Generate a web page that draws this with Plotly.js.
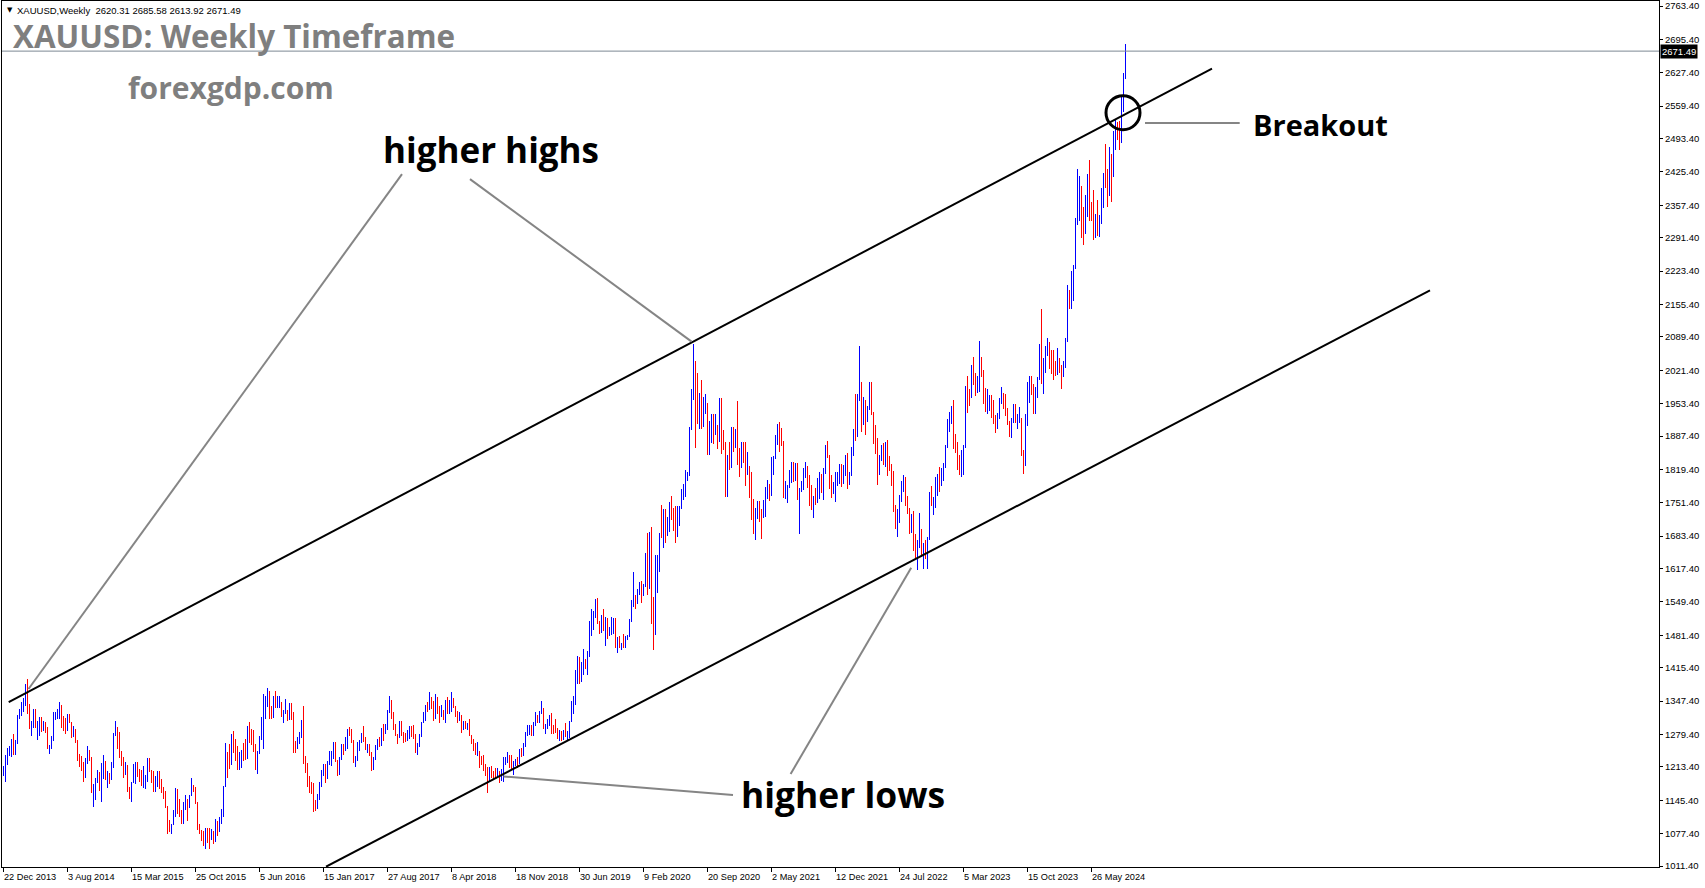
<!DOCTYPE html>
<html><head><meta charset="utf-8">
<script src="https://cdn.plot.ly/plotly-3.0.1.min.js"></script>
<style>
html,body{margin:0;padding:0;background:#fff;overflow:hidden}
#chart{width:1705px;height:888px}
.ohlclayer path,.trace.ohlc path,.ohlc path{shape-rendering:crispEdges !important}
</style>
</head><body><div id="chart"></div>
<script>
// ---- DATA (weekly XAUUSD bars starting week of 22 Dec 2013) ----
const firstWeek = '2013-12-22';

const open = [
1204,1213,1237,1247,1253,1264,1240,1262,1318,1323,1326,1339,1379,1335,1294,1303,1318,1294,1301,1302,1290,1293,1292,1252,1253,1274,1316,1317,1320,1338,1310,1304,1294,1310,1305,1280,1287,1268,1231,1216,1214,1192,1222,1238,1231,1171,1177,1187,1200,1175,1191,1222,1195,1196,
1186,1216,1277,1294,1283,1234,1228,1204,1213,1165,1152,1182,1199,1218,1207,1203,1178,1179,1189,1225,1205,1190,1169,1180,1200,1174,1168,1157,1132,1096,1094,1095,1113,1160,1134,1121,1104,1138,1146,1137,1156,1177,1163,1141,1088,1082,1076,1056,1085,1075,1066,1076,
1061,1098,1089,1097,1116,1173,1239,1229,1222,1270,1259,1255,1217,1221,1243,1234,1232,1290,1289,1273,1253,1213,1243,1275,1298,1323,1341,1366,1327,1322,1351,1335,1336,1341,1322,1327,1328,1310,1339,1316,1257,1251,1266,1276,1304,1224,1208,1183,1177,1160,1134,1133,
1151,1173,1196,1204,1190,1220,1234,1236,1257,1226,1202,1229,1249,1248,1254,1285,1284,1268,1228,1229,1254,1267,1280,1267,1254,1256,1242,1212,1228,1255,1269,1258,1289,1285,1292,1326,1346,1320,1297,1280,1275,1304,1280,1273,1268,1275,1294,1288,1279,1248,1256,1276,
1303,1320,1338,1332,1350,1333,1315,1347,1330,1322,1323,1313,1347,1323,1332,1345,1336,1323,1315,1319,1292,1302,1294,1298,1278,1269,1252,1241,1243,1231,1223,1214,1212,1184,1206,1199,1196,1194,1199,1196,1204,1221,1226,1234,1233,1208,1222,1223,1222,1248,1238,1257,1280,
1287,1291,1282,1298,1318,1314,1322,1329,1294,1298,1303,1313,1292,1291,1290,1275,1286,1281,1286,1277,1283,1305,1341,1342,1399,1409,1400,1415,1426,1419,1440,1497,1514,1527,1528,1507,1488,1516,1497,1505,1489,1490,1505,1514,1459,1468,1462,1464,1460,1476,1478,1511,
1552,1560,1557,1571,1589,1570,1584,1643,1585,1674,1529,1498,1617,1620,1683,1682,1727,1702,1703,1743,1735,1730,1685,1730,1743,1771,1775,1799,1810,1901,1975,2035,1944,1940,1964,1933,1940,1950,1861,1899,1930,1899,1902,1879,1951,1888,1872,1788,1839,1838,1881,1878,
1898,1849,1828,1856,1848,1814,1824,1784,1734,1700,1720,1745,1732,1729,1744,1777,1778,1768,1831,1843,1881,1903,1891,1877,1764,1781,1784,1808,1812,1802,1814,1763,1780,1781,1817,1827,1787,1754,1751,1761,1757,1767,1796,1783,1818,1865,1846,1792,1783,1784,1798,1809,
1829,1797,1817,1835,1791,1808,1859,1898,1889,1966,1988,1921,1958,1925,1946,1975,1932,1896,1883,1811,1846,1853,1850,1871,1840,1826,1811,1742,1708,1727,1766,1775,1802,1747,1737,1712,1716,1675,1644,1660,1695,1644,1657,1644,1681,1771,1751,1754,1797,1798,1793,1798,
1824,1865,1920,1926,1928,1865,1864,1842,1811,1856,1868,1989,1978,1969,2008,2004,1983,1990,2017,2011,1978,1946,1948,1961,1958,1921,1919,1925,1955,1962,1959,1942,1914,1889,1915,1940,1919,1924,1925,1849,1833,1932,1981,2006,1992,1940,1981,2002,2072,2004,2019,2053,
2062,2049,2048,2029,2018,2039,2024,2013,2035,2083,2179,2155,2165,2233,2329,2344,2392,2337,2301,2360,2415,2334,2327,2293,2333,2321,2326,2391,2411,2400,2386,2442,2431,2507,2512,2503,2497,2578,2620.31
];

const high = [
1215,1238,1251,1256,1270,1280,1268,1319,1332,1345,1354,1383,1392,1342,1306,1331,1331,1306,1315,1316,1306,1304,1294,1258,1277,1325,1325,1332,1345,1340,1318,1312,1322,1322,1305,1296,1290,1268,1240,1236,1223,1231,1255,1248,1234,1178,1191,1208,1203,1221,1238,1225,1204,1201,
1224,1282,1307,1294,1285,1245,1233,1224,1218,1172,1183,1219,1224,1224,1209,1208,1215,1196,1232,1232,1206,1205,1194,1205,1205,1189,1172,1164,1133,1105,1098,1126,1170,1169,1147,1125,1141,1157,1147,1157,1191,1177,1173,1141,1098,1085,1082,1088,1088,1088,1087,1082,
1108,1104,1111,1128,1174,1263,1243,1261,1281,1287,1270,1256,1244,1247,1262,1271,1297,1304,1290,1288,1261,1245,1277,1315,1362,1358,1375,1368,1338,1357,1368,1357,1358,1346,1330,1352,1330,1343,1343,1325,1267,1274,1284,1308,1338,1236,1222,1194,1182,1180,1145,1159,
1182,1207,1220,1219,1226,1245,1245,1264,1264,1228,1233,1261,1261,1274,1290,1295,1290,1268,1236,1264,1269,1282,1296,1274,1260,1260,1243,1234,1257,1271,1274,1292,1301,1300,1330,1357,1349,1326,1301,1281,1306,1306,1284,1283,1288,1297,1297,1299,1280,1262,1280,1305,
1326,1339,1345,1366,1355,1347,1362,1355,1338,1340,1329,1350,1356,1349,1365,1354,1338,1328,1326,1319,1307,1307,1303,1310,1279,1271,1262,1265,1245,1235,1237,1220,1213,1214,1215,1204,1212,1212,1205,1209,1233,1233,1244,1238,1237,1226,1230,1233,1250,1252,1262,1284,1298,
1298,1298,1304,1326,1320,1327,1347,1334,1301,1311,1320,1324,1298,1311,1292,1288,1287,1289,1303,1287,1306,1348,1358,1411,1439,1437,1428,1453,1434,1449,1510,1535,1531,1555,1557,1510,1523,1535,1519,1517,1498,1518,1517,1516,1478,1479,1466,1484,1479,1482,1514,1553,
1611,1563,1576,1591,1592,1586,1649,1689,1692,1703,1560,1645,1644,1690,1747,1738,1738,1723,1752,1765,1740,1745,1744,1745,1780,1789,1818,1815,1906,1983,2075,2040,2015,1976,2001,1966,1973,1954,1917,1933,1933,1932,1910,1965,1965,1900,1876,1848,1875,1906,1906,1901,
1959,1864,1875,1876,1875,1855,1826,1815,1760,1740,1755,1756,1738,1758,1784,1797,1790,1845,1846,1890,1912,1916,1903,1877,1795,1788,1818,1834,1834,1832,1832,1782,1795,1823,1834,1827,1809,1787,1765,1781,1801,1814,1810,1823,1869,1877,1849,1808,1794,1815,1815,1831,
1831,1829,1848,1853,1815,1866,1902,1974,1974,2070,1998,1966,1960,1949,1998,1998,1936,1910,1884,1849,1870,1874,1876,1879,1847,1831,1816,1746,1738,1767,1795,1807,1804,1765,1740,1729,1735,1688,1676,1730,1697,1670,1675,1682,1773,1786,1763,1804,1810,1824,1823,1833,
1870,1922,1937,1949,1960,1891,1875,1848,1858,1870,1990,2009,1983,2032,2048,2015,2009,2081,2048,2022,1985,1983,1971,1971,1961,1931,1935,1964,1987,1975,1974,1945,1918,1925,1953,1953,1932,1947,1925,1858,1933,1997,2009,2009,1993,1987,2008,2075,2146,2047,2070,2088,
2079,2062,2062,2041,2066,2046,2032,2041,2088,2195,2185,2223,2236,2331,2431,2418,2396,2353,2378,2422,2450,2364,2388,2340,2368,2338,2393,2424,2483,2432,2477,2462,2509,2531,2528,2529,2582,2626,2685.58
];

const low = [
1195,1182,1217,1235,1233,1238,1238,1260,1311,1317,1325,1337,1321,1291,1277,1293,1292,1268,1277,1284,1286,1283,1250,1240,1250,1266,1309,1310,1310,1292,1287,1281,1287,1302,1273,1275,1262,1226,1214,1205,1183,1190,1219,1225,1160,1131,1145,1181,1165,1142,1188,1187,1171,1178,
1186,1211,1276,1250,1231,1216,1191,1196,1163,1147,1142,1180,1178,1192,1183,1174,1170,1169,1183,1202,1181,1162,1162,1172,1168,1161,1147,1130,1077,1080,1077,1094,1112,1117,1111,1098,1098,1125,1104,1130,1155,1162,1137,1085,1076,1062,1052,1046,1058,1047,1065,1057,
1061,1072,1080,1096,1111,1173,1191,1209,1217,1242,1226,1208,1207,1212,1226,1228,1230,1262,1257,1244,1208,1199,1240,1268,1250,1310,1336,1310,1310,1313,1333,1333,1334,1316,1302,1321,1306,1309,1308,1241,1241,1250,1261,1273,1220,1201,1172,1160,1158,1122,1124,1128,
1146,1172,1195,1180,1188,1218,1216,1230,1224,1195,1196,1227,1237,1245,1250,1276,1262,1221,1214,1226,1246,1262,1265,1248,1242,1235,1204,1206,1227,1247,1253,1256,1267,1280,1288,1323,1311,1288,1277,1261,1272,1277,1263,1264,1266,1270,1275,1271,1241,1237,1253,1274,
1302,1307,1326,1330,1331,1307,1311,1321,1303,1316,1309,1302,1321,1322,1325,1333,1315,1302,1306,1282,1288,1290,1288,1276,1261,1245,1237,1236,1211,1218,1204,1194,1160,1182,1191,1188,1190,1192,1180,1184,1183,1217,1221,1211,1206,1196,1215,1211,1220,1233,1236,1254,1276,
1279,1276,1276,1297,1303,1302,1321,1291,1281,1290,1297,1281,1281,1282,1270,1266,1266,1268,1275,1266,1273,1304,1322,1339,1382,1382,1387,1401,1412,1400,1437,1481,1492,1517,1504,1484,1486,1490,1459,1474,1479,1483,1485,1456,1445,1456,1452,1456,1456,1471,1477,1508,
1540,1536,1546,1563,1547,1561,1580,1563,1575,1504,1451,1482,1567,1610,1680,1660,1670,1683,1692,1716,1693,1670,1682,1705,1738,1758,1763,1795,1805,1900,1960,1863,1911,1901,1902,1906,1933,1848,1848,1873,1872,1890,1860,1876,1850,1859,1764,1764,1819,1823,1854,1864,
1828,1803,1823,1832,1785,1809,1761,1717,1687,1676,1718,1712,1677,1721,1723,1760,1756,1765,1808,1841,1869,1855,1867,1761,1759,1750,1782,1791,1794,1795,1758,1687,1773,1778,1802,1781,1745,1737,1721,1746,1750,1759,1771,1758,1811,1843,1779,1762,1770,1753,1785,1789,
1783,1790,1806,1780,1788,1805,1846,1878,1885,1958,1895,1910,1890,1915,1941,1930,1872,1850,1787,1807,1836,1828,1825,1805,1816,1785,1733,1697,1681,1711,1754,1773,1745,1728,1688,1690,1654,1639,1615,1659,1640,1617,1636,1616,1675,1745,1727,1740,1766,1774,1785,1795,
1822,1862,1896,1911,1861,1853,1818,1809,1804,1809,1864,1934,1949,1965,1992,1969,1975,1978,2007,1952,1937,1932,1939,1925,1911,1893,1902,1923,1952,1942,1929,1910,1885,1884,1913,1913,1901,1913,1846,1810,1826,1908,1954,1970,1932,1932,1965,2001,1993,1973,2016,2050,
2024,2013,2001,2009,2012,2015,1984,2008,2025,2078,2146,2146,2163,2228,2318,2325,2291,2277,2298,2333,2326,2325,2287,2291,2295,2293,2319,2352,2392,2353,2377,2364,2415,2470,2491,2471,2485,2547,2613.92
];

const close = [
1213,1237,1247,1253,1264,1240,1262,1318,1323,1326,1339,1379,1335,1294,1303,1318,1294,1301,1302,1290,1293,1292,1252,1253,1274,1316,1317,1320,1338,1310,1304,1294,1310,1305,1280,1287,1268,1231,1216,1214,1192,1222,1238,1231,1171,1177,1187,1200,1175,1191,1222,1195,1196,1186,
1216,1277,1294,1283,1234,1228,1204,1213,1165,1152,1182,1199,1218,1207,1203,1178,1179,1189,1225,1205,1190,1169,1180,1200,1174,1168,1157,1132,1096,1094,1095,1113,1160,1134,1121,1104,1138,1146,1137,1156,1177,1163,1141,1088,1082,1076,1056,1085,1075,1066,1076,1061,
1098,1089,1097,1116,1173,1239,1229,1222,1270,1259,1255,1217,1221,1243,1234,1232,1290,1289,1273,1253,1213,1243,1275,1298,1323,1341,1366,1327,1322,1351,1335,1336,1341,1322,1327,1328,1310,1339,1316,1257,1251,1266,1276,1304,1224,1208,1183,1177,1160,1134,1133,1151,
1173,1196,1204,1190,1220,1234,1236,1257,1226,1202,1229,1249,1248,1254,1285,1284,1268,1228,1229,1254,1267,1280,1267,1254,1256,1242,1212,1228,1255,1269,1258,1289,1285,1292,1326,1346,1320,1297,1280,1275,1304,1280,1273,1268,1275,1294,1288,1279,1248,1256,1276,1303,
1320,1338,1332,1350,1333,1315,1347,1330,1322,1323,1313,1347,1323,1332,1345,1336,1323,1315,1319,1292,1302,1294,1298,1278,1269,1252,1241,1243,1231,1223,1214,1212,1184,1206,1199,1196,1194,1199,1196,1204,1221,1226,1234,1233,1208,1222,1223,1222,1248,1238,1257,1280,1287,
1291,1282,1298,1318,1314,1322,1329,1294,1298,1303,1313,1292,1291,1290,1275,1286,1281,1286,1277,1283,1305,1341,1342,1399,1409,1400,1415,1426,1419,1440,1497,1514,1527,1528,1507,1488,1516,1497,1505,1489,1490,1505,1514,1459,1468,1462,1464,1460,1476,1478,1511,1552,
1560,1557,1571,1589,1570,1584,1643,1585,1674,1529,1498,1617,1620,1683,1682,1727,1702,1703,1743,1735,1730,1685,1730,1743,1771,1775,1799,1810,1901,1975,2035,1944,1940,1964,1933,1940,1950,1861,1899,1930,1899,1902,1879,1951,1888,1872,1788,1839,1838,1881,1878,1898,
1849,1828,1856,1848,1814,1824,1784,1734,1700,1720,1745,1732,1729,1744,1777,1778,1768,1831,1843,1881,1903,1891,1877,1764,1781,1784,1808,1812,1802,1814,1763,1780,1781,1817,1827,1787,1754,1751,1761,1757,1767,1796,1783,1818,1865,1846,1792,1783,1784,1798,1809,1829,
1797,1817,1835,1791,1808,1859,1898,1889,1966,1988,1921,1958,1925,1946,1975,1932,1896,1883,1811,1846,1853,1850,1871,1840,1826,1811,1742,1708,1727,1766,1775,1802,1747,1737,1712,1716,1675,1644,1660,1695,1644,1657,1644,1681,1771,1751,1754,1797,1798,1793,1798,1824,
1865,1920,1926,1928,1865,1864,1842,1811,1856,1868,1989,1978,1969,2008,2004,1983,1990,2017,2011,1978,1946,1948,1961,1958,1921,1919,1925,1955,1962,1959,1942,1914,1889,1915,1940,1919,1924,1925,1849,1833,1932,1981,2006,1992,1940,1981,2002,2072,2004,2019,2053,2062,
2049,2048,2029,2018,2039,2024,2013,2035,2083,2179,2155,2165,2233,2329,2344,2392,2337,2301,2360,2415,2334,2327,2293,2333,2321,2326,2391,2411,2400,2386,2442,2431,2507,2512,2503,2497,2578,2621,2671.49
];

const yTicks = [1011.4,1077.4,1145.4,1213.4,1279.4,1347.4,1415.4,1481.4,1549.4,1617.4,1683.4,1751.4,1819.4,1887.4,1953.4,2021.4,2089.4,2155.4,2223.4,2291.4,2357.4,2425.4,2493.4,2559.4,2627.4,2695.4,2763.4];
const xTickDates = ['2013-12-22','2014-08-03','2015-03-15','2015-10-25','2016-06-05','2017-01-15','2017-08-27','2018-04-08','2018-11-18','2019-06-30','2020-02-09','2020-09-20','2021-05-02','2021-12-12','2022-07-24','2023-03-05','2023-10-15','2024-05-26'];
const xTickLabels = ['22 Dec 2013','3 Aug 2014','15 Mar 2015','25 Oct 2015','5 Jun 2016','15 Jan 2017','27 Aug 2017','8 Apr 2018','18 Nov 2018','30 Jun 2019','9 Feb 2020','20 Sep 2020','2 May 2021','12 Dec 2021','24 Jul 2022','5 Mar 2023','15 Oct 2023','26 May 2024'];
const lastBar = {o: 2620.31, h: 2685.58, l: 2613.92, c: 2671.49};

// ---- helpers ----
const WEEK_MS = 7 * 86400000;
const START_MS = Date.parse(firstWeek + 'T00:00:00Z');
function wdate(w) { return new Date(START_MS + w * WEEK_MS).toISOString().replace('T', ' ').slice(0, 19); }
const dates = open.map((_, i) => wdate(i));

const W = 1705, H = 888, PL = 2, PR = 1659, PT = 1, PB = 867;
const P = x => (x - PL) / (PR - PL);
const Q = y => (PB - y) / (PB - PT);

const trace = {
  type: 'ohlc', x: dates, open: open, high: high, low: low, close: close,
  increasing: {line: {color: '#0000ff', width: 1}},
  decreasing: {line: {color: '#ff0000', width: 1}},
  tickwidth: 0, hoverinfo: 'skip', showlegend: false
};

const black = {color: '#000', width: 2};
const gray = {color: '#858585', width: 2};
const shapes = [
  {type: 'line', xref: 'paper', yref: 'y', x0: 0, x1: 1, y0: lastBar.c, y1: lastBar.c, line: {color: '#7d8894', width: 1}},
  {type: 'line', xref: 'x', yref: 'y', x0: wdate(2.6), y0: 1345.5, x1: wdate(604.25), y1: 2636, line: black},
  {type: 'line', xref: 'x', yref: 'y', x0: wdate(161.25), y0: 1010, x1: wdate(713.25), y1: 2184, line: black},
  {type: 'line', xref: 'x', yref: 'y', x0: wdate(199.25), y0: 2421, x1: wdate(12.5), y1: 1372, line: gray},
  {type: 'line', xref: 'x', yref: 'y', x0: wdate(233.25), y0: 2410.8, x1: wdate(344.05), y1: 2079.8, line: gray},
  {type: 'line', xref: 'x', yref: 'y', x0: wdate(364.75), y0: 1156, x1: wdate(250), y1: 1193.9, line: gray},
  {type: 'line', xref: 'x', yref: 'y', x0: wdate(393.55), y0: 1198.8, x1: wdate(453.85), y1: 1619.2, line: gray},
  {type: 'line', xref: 'x', yref: 'y', x0: wdate(570.75), y0: 2525, x1: wdate(618.1), y1: 2525, line: gray},
  {type: 'circle', xref: 'x', yref: 'y', x0: wdate(551.25), x1: wdate(568.25), y0: 2511.4, y1: 2580.6, line: {color: '#000', width: 3}}
];

const axFont = {family: 'Liberation Sans, Arial, sans-serif', size: 9.5, color: '#000'};
const xFont = {family: 'Liberation Sans, Arial, sans-serif', size: 9.2, color: '#000'};
const bigFont = (size, color) => ({family: 'Open Sans, sans-serif', size: size, color: color});

const annotations = [
  {text: '▼', xref: 'paper', yref: 'paper', x: P(5), y: Q(10), xanchor: 'left', yanchor: 'middle', showarrow: false, font: {family: 'DejaVu Sans', size: 7, color: '#000'}},
  {text: 'XAUUSD,Weekly\u00a0 ' + [lastBar.o, lastBar.h, lastBar.l, lastBar.c].map(v => v.toFixed(2)).join(' '), xref: 'paper', yref: 'paper', x: P(15), y: Q(10), xanchor: 'left', yanchor: 'middle', showarrow: false, font: axFont},
  {text: '<b>XAUUSD: Weekly Timeframe</b>', xref: 'paper', yref: 'paper', x: P(11), y: Q(35), xanchor: 'left', yanchor: 'middle', showarrow: false, font: bigFont(31.4, '#7f7f7f')},
  {text: '<b>forexgdp.com</b>', xref: 'paper', yref: 'paper', x: P(126), y: Q(87), xanchor: 'left', yanchor: 'middle', showarrow: false, font: bigFont(30, '#7f7f7f')},
  {text: '<b>higher highs</b>', xref: 'paper', yref: 'paper', x: P(491), y: Q(150), xanchor: 'center', yanchor: 'middle', showarrow: false, font: bigFont(35, '#000')},
  {text: '<b>higher lows</b>', xref: 'paper', yref: 'paper', x: P(843), y: Q(794), xanchor: 'center', yanchor: 'middle', showarrow: false, font: bigFont(35.4, '#000')},
  {text: '<b>Breakout</b>', xref: 'paper', yref: 'paper', x: P(1320), y: Q(125), xanchor: 'center', yanchor: 'middle', showarrow: false, font: bigFont(29, '#000')},
  {text: lastBar.c.toFixed(2), xref: 'paper', yref: 'y', x: 1, y: lastBar.c, xanchor: 'left', yanchor: 'middle', xshift: 1, showarrow: false, bgcolor: '#000', borderpad: 1, font: {family: axFont.family, size: 9.5, color: '#fff'}}
].concat(xTickLabels.map((t, k) => ({
  text: t, xref: 'x', yref: 'paper', x: xTickDates[k], y: 0, yshift: -10, xshift: -2, xanchor: 'left', yanchor: 'middle', showarrow: false, font: xFont
})));

const layout = {
  width: W, height: H,
  margin: {l: PL, r: W - PR, t: PT, b: H - PB, pad: 0},
  paper_bgcolor: '#fff', plot_bgcolor: '#fff',
  showlegend: false, hovermode: false, dragmode: false,
  xaxis: {
    type: 'date', range: [wdate(-0.75), wdate(827.75)], showgrid: false, zeroline: false,
    showline: true, mirror: true, linecolor: '#000', linewidth: 1,
    ticks: 'outside', ticklen: 4, tickcolor: '#000', tickwidth: 1,
    tickvals: xTickDates, showticklabels: false,
    rangeslider: {visible: false}, fixedrange: true
  },
  yaxis: {
    side: 'right', range: [1009.4, 2773.6], showgrid: false, zeroline: false,
    showline: true, mirror: true, linecolor: '#000', linewidth: 1,
    ticks: 'outside', ticklen: 3, tickcolor: '#000', tickwidth: 1,
    tickvals: yTicks, ticktext: yTicks.map(v => v.toFixed(2)),
    tickfont: axFont, fixedrange: true
  },
  shapes: shapes,
  annotations: annotations
};

Plotly.newPlot('chart', [trace], layout, {displayModeBar: false, staticPlot: true}).then(function () {
  document.querySelectorAll('.ohlclayer path, .trace.ohlc path').forEach(function (p) {
    p.setAttribute('shape-rendering', 'crispEdges');
  });
});
</script>
</body></html>
